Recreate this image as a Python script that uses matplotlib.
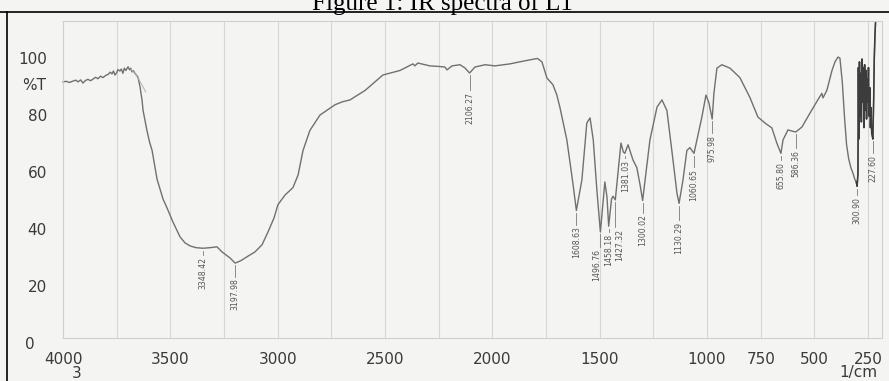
import matplotlib.pyplot as plt
from matplotlib.lines import Line2D

# IR trace, cm^-1 against %T
wavenumber = [
    4000, 3985, 3970, 3953, 3940, 3930, 3918, 3907, 3895, 3884, 3872, 3860,
    3848, 3837, 3825, 3814, 3800, 3790, 3780, 3772, 3765, 3758, 3750, 3744,
    3735, 3728, 3721, 3714, 3707, 3697, 3690, 3684, 3679, 3672, 3665, 3651,
    3641, 3632, 3627, 3609, 3597, 3585, 3562, 3534, 3516, 3488, 3455, 3432,
    3408, 3380, 3348.42, 3315, 3283, 3259, 3222, 3197.98, 3170, 3152, 3106,
    3073, 3045, 3017, 2999, 2966, 2929, 2905, 2882, 2850, 2803, 2733, 2700,
    2663, 2593, 2510, 2430, 2370, 2361, 2347, 2291, 2250, 2221, 2211, 2188,
    2151, 2128, 2106.27, 2081, 2034, 1988, 1918, 1860, 1825, 1790, 1769,
    1746, 1730, 1718, 1700, 1685, 1653, 1625, 1608.63, 1583, 1560, 1545,
    1530, 1513, 1496.76, 1476, 1466, 1458.18, 1445, 1438, 1427.32, 1415,
    1401, 1390, 1383, 1368, 1345, 1327, 1312, 1300.02, 1285, 1266, 1233,
    1210, 1187, 1164, 1140, 1130.29, 1112, 1094, 1080, 1060.65, 1047, 1024,
    1005, 991, 975.98, 968, 954, 931, 893, 847, 800, 763, 730, 698, 675,
    655.80, 646, 623, 600, 586.36, 558, 521, 484, 465, 460, 442, 418, 404,
    390, 381, 370, 360, 350, 340, 330, 320, 312, 305, 300.90, 297, 295, 293,
    290, 287, 284, 281, 278, 275, 272, 269, 266, 263, 260, 257, 254, 251,
    248, 245, 242, 239, 236, 233, 230, 227.60, 224, 221, 218, 215,
]
transmittance = [
    92.0, 92.2, 91.8, 92.3, 92.6, 92.0, 92.7, 91.6, 92.5, 92.9, 92.4, 93.0,
    93.6, 93.1, 94.0, 93.5, 94.3, 94.6, 95.4, 94.8, 95.8, 94.4, 95.2, 96.3,
    95.8, 96.5, 95.0, 96.8, 96.0, 97.3, 96.2, 96.8, 95.5, 95.9, 95.0, 93.7,
    90.2, 85.7, 82.0, 75.0, 71.0, 68.0, 58.0, 51.0, 48.0, 43.0, 37.8, 35.7,
    34.6, 34.0, 33.8, 34.0, 34.3, 32.5, 30.4, 28.6, 29.5, 30.4, 32.5,
    35.0, 39.5, 44.4, 49.0, 52.4, 55.0, 59.4, 68.0, 75.0, 80.4, 84.0, 85.0,
    85.7, 89.0, 94.4, 96.0, 98.3, 97.6, 98.6, 97.6, 97.4, 97.2, 96.2, 97.6,
    98.0, 96.9, 95.1, 97.2, 98.0, 97.6, 98.3, 99.2, 99.7, 100.2, 99.0,
    93.4, 92.0, 91.0, 87.5, 83.0, 71.7, 56.6, 47.0, 57.7, 77.6, 79.4,
    71.7, 54.0, 39.5, 57.0, 51.7, 41.5, 51.0, 52.0, 50.7, 60.0,
    70.6, 67.5, 67.0, 70.0, 64.7, 62.0, 56.0, 50.5, 60.0, 71.7, 83.2,
    85.7, 82.0, 68.0, 53.0, 49.5, 57.7, 68.0, 69.0, 67.0, 71.7, 79.7,
    87.4, 84.6, 79.0, 88.0, 96.8, 98.0, 96.8, 93.5, 86.5, 79.7, 77.6, 75.9, 70.6,
    67.0, 71.7, 75.2, 74.7, 74.5, 76.2, 81.0, 85.7, 88.0, 86.4, 89.0, 96.0, 99.0,
    100.7, 100.3, 92.0, 80.0, 70.0, 65.0, 62.0, 60.0, 58.0, 57.0, 55.5, 60.0, 97.0, 72.0,
    99.0, 80.0, 95.0, 78.0, 100.0, 85.0, 97.0, 76.0, 98.0, 82.0, 96.0, 79.0, 93.0, 85.0,
    97.0, 80.0, 90.0, 76.0, 83.0, 74.0, 73.0, 72.0, 85.0, 100.0, 108.0, 113.0,
]

# faint second pen stroke at the O-H onset
stray_wn = [3684, 3660, 3640, 3615]
stray_t = [96.5, 94.5, 92.0, 88.5]

# peak-pick annotations
peak_wn = [3348.42, 3197.98, 2106.27, 1608.63, 1496.76, 1458.18, 1427.32,
           1381.03, 1300.02, 1130.29, 1060.65, 975.98, 655.80, 586.36,
           300.90, 227.60]
peak_t = [33.8, 28.6, 95.1, 47.0, 39.5, 41.5, 50.7, 67.0, 50.5, 49.5,
          67.0, 79.0, 67.0, 74.5, 55.5, 72.0]
# where each rotated label starts (in %T) and its sideways nudge (points)
label_top = [31.5, 23.8, 89.0, 42.0, 34.3, 39.5, 41.3, 65.4, 46.2, 43.7,
             62.2, 74.0, 64.7, 68.9, 52.4, 67.0]
label_dx = [0, 0, 0, 0, -3, 0, 3, 0, 0, 0, 0, 0, 0, 0, 0, 0]

x_ticks = [4000, 3500, 3000, 2500, 2000, 1500, 1000, 750, 500, 250]
y_ticks = [100, 80, 60, 40, 20, 0]

W, H = 889, 381
paper = '#f4f4f2'
fig = plt.figure(figsize=(W / 100, H / 100), dpi=100, facecolor=paper)
ax = fig.add_axes([63 / W, 43 / H, 819 / W, 317 / H], facecolor=paper)
ax.set_xlim(4000, 185)
ax.set_ylim(2.4, 113.3)

for g in range(4000, 249, -250):
    ax.axvline(g, color='#d6d6d6', lw=0.8, zorder=0)
for s in ax.spines.values():
    s.set_color('#cfcfcf')
    s.set_linewidth(0.8)

ax.plot(wavenumber, transmittance, color='#707070', lw=1.0, clip_on=False)
far = [i for i, w in enumerate(wavenumber) if w < 310]
ax.plot([wavenumber[i] for i in far], [transmittance[i] for i in far],
        color='#3c3c3c', lw=1.1, clip_on=False)
ax.plot(stray_wn, stray_t, color='#b0b0b0', lw=0.7)

for w, t, top, dx in zip(peak_wn, peak_t, label_top, label_dx):
    ax.plot([w, w], [t - 0.8, top], color='#7a7a7a', lw=0.6)
    ax.annotate(f'{w:.2f}', (w, top - 0.6), xytext=(dx, 0),
                textcoords='offset points', rotation=90, ha='center',
                va='top', fontsize=5.6, color='#555555')

ax.set_xticks(x_ticks)
ax.set_xticklabels([str(v) for v in x_ticks], fontsize=11, color='#3a3a3a')
ax.tick_params(axis='x', length=0, pad=10)
ax.set_yticks([])

ytr = ax.get_yaxis_transform()
for v in y_ticks:
    if v == 0:
        ax.text((25 - 63) / 819, v, '0', ha='left', va='center', fontsize=11,
                color='#3a3a3a', transform=ytr, clip_on=False)
    else:
        ax.text((47 - 63) / 819, v, str(v), ha='right', va='center',
                fontsize=11, color='#3a3a3a', transform=ytr, clip_on=False)
ax.text((46 - 63) / 819, 90.6, '%T', ha='right', va='center', fontsize=11,
        color='#3a3a3a', transform=ytr, clip_on=False)

fig.text(77 / W, 1 - 373 / H, '3', ha='center', va='center', fontsize=11,
         color='#3a3a3a')
fig.text(877 / W, 1 - 373 / H, '1/cm', ha='right', va='center', fontsize=11,
         color='#3a3a3a')

# caption line and page border
fig.text(442 / W, 1 - 10 / H, 'Figure 1: IR spectra of L1', ha='center',
         va='baseline', fontsize=18, family='Liberation Serif', color='black')
fig.add_artist(Line2D([0, 1], [1 - 12 / H] * 2, color='black', lw=1.2,
                      transform=fig.transFigure))
fig.add_artist(Line2D([7 / W] * 2, [0, 1 - 12 / H], color='black', lw=1.2,
                      transform=fig.transFigure))

fig.savefig('out.png', dpi=100, facecolor=paper)
